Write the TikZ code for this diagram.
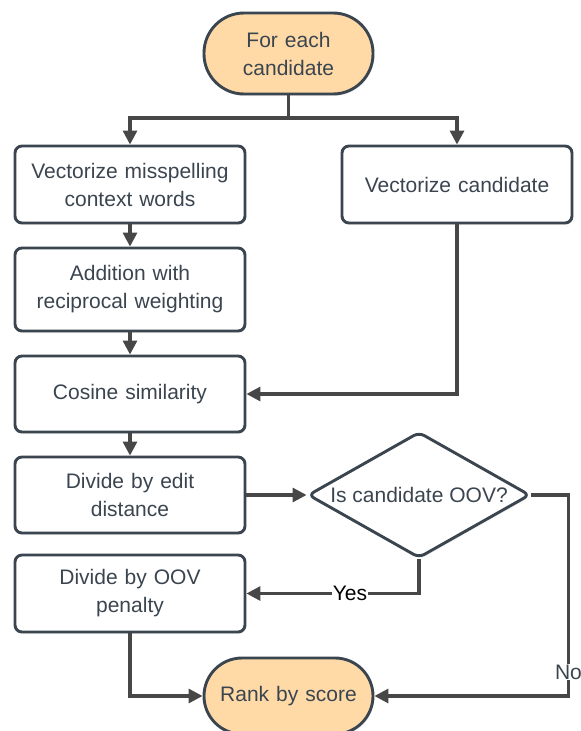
\documentclass[tikz,border=0pt]{standalone}
\usepackage{fontspec}
\setmainfont{Liberation Sans}
\usetikzlibrary{arrows.meta,shapes.geometric,shadows}
\definecolor{bd}{HTML}{3B4550}
\definecolor{ln}{HTML}{474747}
\definecolor{peach}{HTML}{FFDAA6}
\begin{document}
\begin{tikzpicture}[x=1pt,y=-1pt,
  box/.style={draw=bd, line width=2.9pt, rounded corners=7pt, fill=white,
    minimum width=230pt, minimum height=77pt, text width=220pt, align=center,
    text=bd, inner sep=0pt, font=\fontsize{21}{28}\selectfont,
    drop shadow={opacity=0.12, shadow xshift=1pt, shadow yshift=-2pt}},
  term/.style={box, fill=peach, minimum width=169pt, text width=150pt},
  diam/.style={diamond, draw=bd, line width=2.9pt, fill=white, rounded corners=6pt,
    minimum width=222pt, minimum height=126pt, inner sep=0pt, aspect=1.76,
    text=bd, font=\fontsize{21}{28}\selectfont,
    drop shadow={opacity=0.12, shadow xshift=1pt, shadow yshift=-2pt}},
  conn/.style={draw=ln, line width=3.2pt, -{Triangle[length=14pt,width=14pt]}},
  plain/.style={draw=ln, line width=3.2pt},
  lab/.style={fill=white, inner sep=1pt, font=\fontsize{21}{24}\selectfont}
]
\path[use as bounding box, fill=white] (0,0) rectangle (581,731);

\node[term, minimum height=81pt, rounded corners=40pt] (top) at (288.5,53.5) {For each\\candidate};
\node[box] (v1) at (130,184.5) {Vectorize misspelling\\context words};
\node[box] (vc) at (457,184.5) {Vectorize candidate};
\node[box, minimum height=83pt] (add) at (130,289.5) {Addition with\\reciprocal weighting};
\node[box, minimum height=76pt] (cos) at (130,394) {Cosine similarity};
\node[box, minimum height=76pt] (ed) at (130,495) {Divide by edit\\distance};
\node[diam] (oov) at (419,495) {Is candidate OOV?};
\node[box] (pen) at (130,593.5) {Divide by OOV\\penalty};
\node[term, minimum height=76pt, rounded corners=38pt] (rank) at (288.5,696) {Rank by score};

\coordinate (split) at (288.5,118);
\draw[plain] (top.south) -- (split);
\draw[conn] (split) -| (v1.north);
\draw[conn] (split) -| (vc.north);
\draw[conn] (v1.south) -- (add.north);
\draw[conn] (add.south) -- (cos.north);
\draw[conn] (cos.south) -- (ed.north);
\draw[conn] (vc.south) |- (cos.east);
\draw[conn] (ed.east) -- (oov.west);
\draw[conn] (oov.south) |- node[lab, pos=0.70, text=black] {Yes} (pen.east);
\draw[conn] (oov.east) -- ++(37,0) |- node[lab, pos=0.44, text=bd] {No} (rank.east);
\draw[conn] (pen.south) |- (rank.west);
\end{tikzpicture}
\end{document}
